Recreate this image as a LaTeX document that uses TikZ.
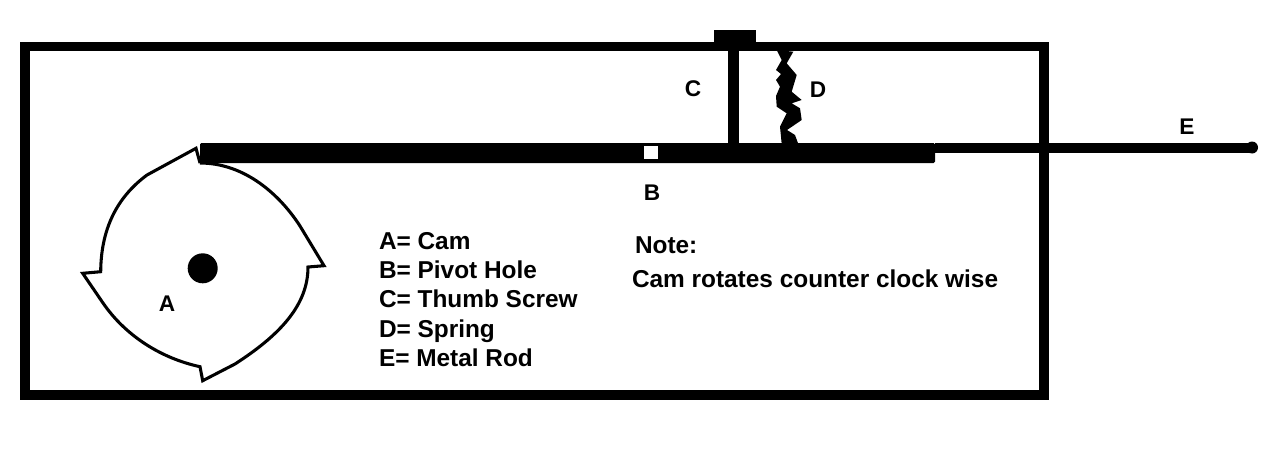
\documentclass[tikz,border=0pt]{standalone}
\usepackage{fontspec}
\setmainfont{Liberation Sans}
\tikzset{
  lbl/.style={anchor=base west,inner sep=0pt,outer sep=0pt,font=\fontsize{18.3}{20}\selectfont\bfseries,text=black},
  letter/.style={anchor=base,inner sep=0pt,outer sep=0pt,font=\fontsize{17}{20}\selectfont\bfseries,text=black},
  frameline/.style={draw=black,line width=7.2pt,line join=miter},
  camline/.style={draw=black,line width=2.3pt,line join=miter},
  solidpart/.style={fill=black,draw=none}
}
\begin{document}
\begin{tikzpicture}[x=0.75pt,y=-0.75pt]
\useasboundingbox (0,0) rectangle (1280,450);
\fill[white] (0,0) rectangle (1280,450);
% frame
\draw[frameline] (25,46.5) rectangle (1044,395);
% rod
\draw[draw=black,line width=7.5pt] (935,148) -- (1253,148);
\fill[black] (1252,147.5) circle (6);
% bar
\fill[solidpart,rounded corners=1pt] (200,143) rectangle (935,163);
% pivot hole
\fill[white] (644,146) rectangle (658,159);
% thumb screw
\fill[solidpart] (714,30) rectangle (756,44);
\fill[solidpart] (728,44) rectangle (739,144);
% spring
\fill[solidpart] (776.7,50) -- (781.7,60) -- (776,70) -- (781,74) -- (776,80) -- (780,86.7) -- (776,96) -- (776.7,106.7) -- (786.7,113.3) -- (780,126.7) -- (781.7,144)
  -- (798.3,144) -- (795,135) -- (787,130) -- (801.7,120) -- (800,108.3) -- (791.7,103.3) -- (801.7,100) -- (791.7,91.7) -- (796.7,75) -- (786.7,63.3) -- (793.3,51.7) -- cycle;
% cam
\draw[camline] (200,163) .. controls (245,163) and (280,195) .. (300,226) -- (324,265.7)
  -- (308,267) .. controls (308,305) and (280,335) .. (235,364) -- (202.7,380.7)
  -- (200,366.7) .. controls (160,358) and (125,335) .. (103,303) -- (82.7,273.3)
  -- (100.7,271.7) .. controls (101,225) and (120,195) .. (147,175) -- (196,148.3)
  -- (200,163);
\fill[black] (202.7,268.3) circle (15);
% labels
\node[letter] (lA) at (167,311.5) {A};
\node[letter] (lB) at (652,200.5) {B};
\node[letter] (lC) at (693,96) {C};
\node[letter] (lD) at (818,97) {D};
\node[letter] (lE) at (1187,134) {E};
\node[lbl] (k1) at (379,249) {A= Cam};
\node[lbl] (k2) at (379,278) {B= Pivot Hole};
\node[lbl] (k3) at (379,307.5) {C= Thumb Screw};
\node[lbl] (k4) at (379,337) {D= Spring};
\node[lbl] (k5) at (379,366.5) {E= Metal Rod};
\node[lbl] (n1) at (635,253.5) {Note:};
\node[lbl] (n2) at (632,287.5) {Cam rotates counter clock wise};
\end{tikzpicture}
\end{document}
